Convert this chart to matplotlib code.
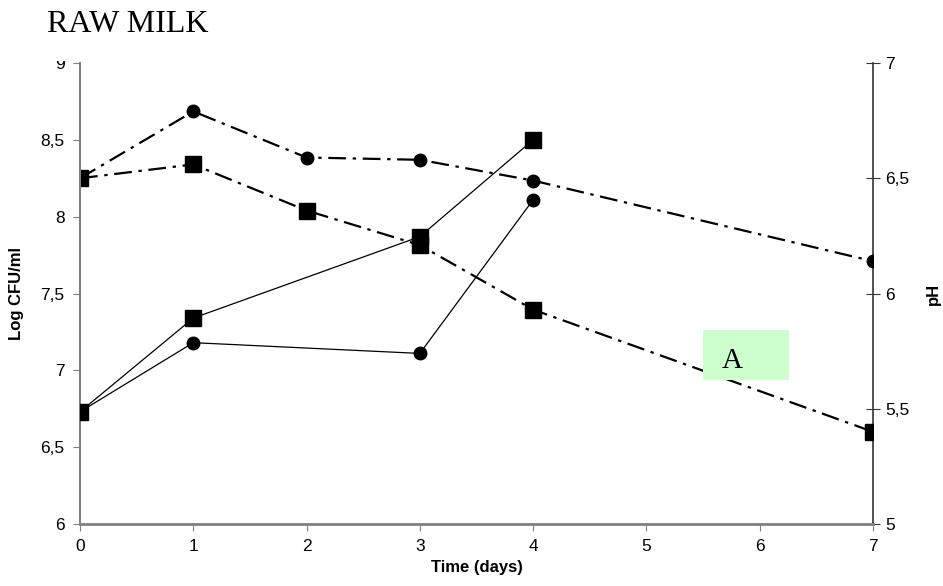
import matplotlib
matplotlib.use("Agg")
import matplotlib.pyplot as plt
from matplotlib.patches import Rectangle
from matplotlib.ticker import FuncFormatter, MultipleLocator

# counts (left axis, log CFU/ml)
days_counts = [0, 1, 3, 4]
counts_sq = [6.73, 7.34, 7.87, 8.50]
counts_ci = [6.73, 7.18, 7.11, 8.11]

# pH (right axis)
days_ph = [0, 1, 2, 3, 4, 7]
ph_sq = [6.50, 6.56, 6.36, 6.21, 5.93, 5.40]
ph_ci = [6.50, 6.79, 6.59, 6.58, 6.49, 6.14]

x_ticks = list(range(8))

plt.rcParams["font.family"] = ["Liberation Sans", "DejaVu Sans"]

fig = plt.figure(figsize=(9.43, 5.86), dpi=100)
ax = fig.add_axes([80 / 943, 62 / 586, 793 / 943, 461 / 586])
ax2 = ax.twinx()

dashdot = (0, (8, 3, 1.5, 3))
ax2.plot(days_ph, ph_ci, color="black", lw=1.6, ls=dashdot,
         marker="o", ms=9, zorder=3)
ax2.plot(days_ph, ph_sq, color="black", lw=1.6, ls=dashdot,
         marker="s", ms=11.5, zorder=3)

ax.plot(days_counts, counts_ci, color="black", lw=0.9, marker="o", ms=9, zorder=3)
ax.plot(days_counts, counts_sq, color="black", lw=0.9, marker="s", ms=11.5, zorder=4)
ax.set_zorder(ax2.get_zorder() + 1)
ax.patch.set_visible(False)

comma = FuncFormatter(lambda v, _: f"{v:g}".replace(".", ","))

ax.set_xlim(0, 7)
ax.set_ylim(6, 9)
ax2.set_ylim(5, 7)
ax.set_xticks(x_ticks)
ax.yaxis.set_major_locator(MultipleLocator(0.5))
ax2.yaxis.set_major_locator(MultipleLocator(0.5))
ax.yaxis.set_major_formatter(comma)
ax2.yaxis.set_major_formatter(comma)

for a in (ax, ax2):
    a.spines["top"].set_visible(False)
ax.spines["left"].set_color("#808080")
ax.spines["left"].set_linewidth(1.5)
ax.spines["bottom"].set_color("#808080")
ax.spines["bottom"].set_linewidth(2)
ax.spines["right"].set_visible(False)
ax2.spines["left"].set_visible(False)
ax2.spines["bottom"].set_visible(False)
ax2.spines["right"].set_color("#333333")
ax2.spines["right"].set_linewidth(1.2)

ax.tick_params(axis="both", direction="out", length=5, color="#808080",
               labelsize=12.5, pad=6)
ax2.tick_params(axis="y", direction="inout", length=10, color="#333333",
                labelsize=12.5, pad=4)

ax.set_xlabel("Time (days)", fontsize=12, fontweight="bold", labelpad=4)
ax.set_ylabel("Log CFU/ml", fontsize=12, fontweight="bold", labelpad=12)
ax2.set_ylabel("pH", fontsize=12, fontweight="bold", labelpad=12)

# label box "A" over the falling pH line
ax.add_patch(Rectangle((5.50, 6.94), 0.76, 0.32, facecolor="#ccffcc",
                       edgecolor="none", zorder=5))
ax.text(5.76, 7.06, "A", fontsize=21, family="Liberation Serif",
        ha="center", va="center", zorder=6)

# title block sits over the top of the chart
fig.patches.append(Rectangle((0, 1 - 61 / 586), 300 / 943, 61 / 586,
                             transform=fig.transFigure, facecolor="white",
                             edgecolor="none", zorder=10))
fig.text(47 / 943, 1 - 24 / 586, "RAW MILK", fontsize=23,
         family="Liberation Serif", va="center", ha="left", zorder=11)

fig.savefig("out.png", dpi=100)
